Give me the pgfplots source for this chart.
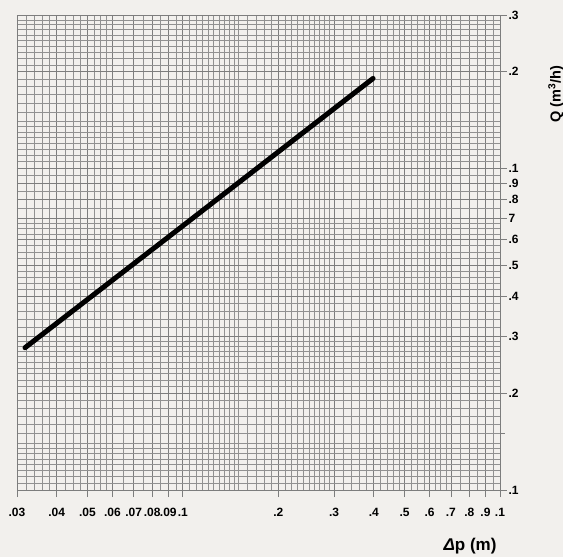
\documentclass[border=0pt]{standalone}
\usepackage{fontspec}
\setmainfont{Liberation Sans}
\usepackage{pgfplots}
\pgfplotsset{compat=1.18}
\definecolor{paper}{RGB}{242,240,237}
\definecolor{gridc}{RGB}{125,125,125}
\begin{document}
\begin{tikzpicture}
\path[use as bounding box, fill=paper] (-17pt,-67pt) rectangle (546pt,490pt);
\begin{axis}[
 at={(0,0)}, anchor=south west,
 scale only axis, width=483pt, height=475pt,
 xmode=log, ymode=log, xmin=0.03, xmax=1, ymin=0.01, ymax=0.3,
 axis line style={gridc, line width=0.7pt},
 xtick={0.03,0.04,0.05,0.06,0.07,0.08,0.09,0.1,0.2,0.3,0.4,0.5,0.6,0.7,0.8,0.9,1},
 xticklabels={.03,.04,.05,.06,.07,.08,.09,.1,.2,.3,.4,.5,.6,.7,.8,.9,.1},
 ytick={0.01,0.02,0.03,0.04,0.05,0.06,0.07,0.08,0.09,0.1,0.2,0.3},
 yticklabels={.1,.2,.3,.4,.5,.6,7,.8,.9,.1,.2,.3},
 minor xtick={0.032,0.034,0.036,0.038,0.0425,0.045,0.0475,0.0525,0.055,0.0575,0.065,0.075,0.085,0.095,0.105,0.11,0.115,0.12,0.125,0.13,0.135,0.14,0.145,0.15,0.16,0.17,0.18,0.19,0.21,0.22,0.23,0.24,0.25,0.26,0.27,0.28,0.29,0.32,0.34,0.36,0.38,0.42,0.44,0.46,0.48,0.525,0.55,0.575,0.625,0.65,0.675,0.75,0.85,0.95},
 minor ytick={0.0105,0.011,0.0115,0.012,0.0125,0.013,0.0135,0.014,0.015,0.016,0.017,0.018,0.019,0.021,0.022,0.023,0.024,0.025,0.026,0.027,0.028,0.029,0.032,0.034,0.036,0.038,0.042,0.044,0.046,0.048,0.0525,0.055,0.0575,0.0625,0.065,0.0675,0.075,0.085,0.095,0.105,0.11,0.115,0.12,0.125,0.13,0.135,0.14,0.15,0.16,0.17,0.18,0.19,0.21,0.22,0.23,0.24,0.25,0.26,0.27,0.28,0.29},
 xtick pos=bottom, ytick pos=right, tick align=outside,
 major tick length=7pt, minor tick length=0pt,
 tick style={gridc, line width=0.7pt},
 grid=both,
 major grid style={gridc, line width=0.7pt},
 minor grid style={gridc!85, line width=0.45pt},
 extra y ticks={0.015}, extra y tick labels={}, extra y tick style={grid=none, major tick length=5pt},
 xticklabel style={font=\bfseries\fontsize{12}{14}\selectfont, text depth=0pt, yshift=-8pt, inner xsep=0pt},
 yticklabel style={font=\bfseries\fontsize{12}{14}\selectfont, anchor=west, xshift=-2pt},
]
\addplot[black, line width=5pt, line cap=round] coordinates {(0.0318,0.0277) (0.1,0.0663) (0.398,0.1905)};
\end{axis}
\node[rotate=90, font=\bfseries\fontsize{14.5}{16}\selectfont] at (539pt,396pt) {Q (m\textsuperscript{3}/h)};
\node[font=\bfseries\fontsize{17}{20}\selectfont] at (453pt,-56pt) {{\itshape Δ}p (m)};
\end{tikzpicture}
\end{document}
